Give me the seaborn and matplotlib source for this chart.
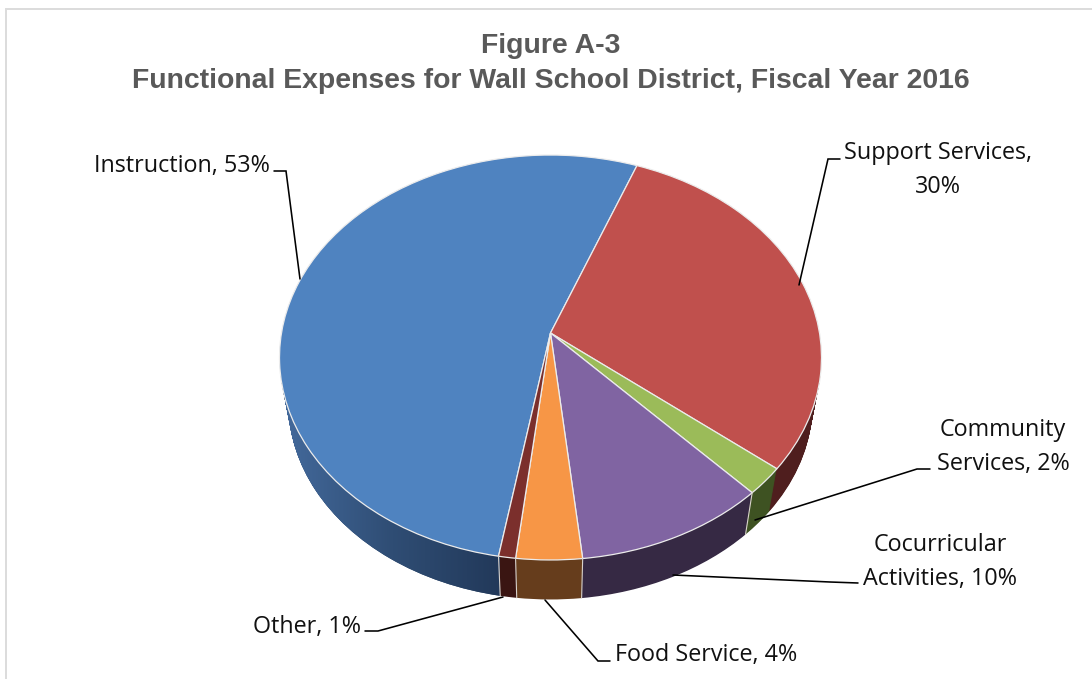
import numpy as np
import matplotlib
matplotlib.use('Agg')
import matplotlib.pyplot as plt
import seaborn as sns
from matplotlib.colors import LinearSegmentedColormap
from matplotlib.path import Path
from matplotlib.transforms import Transform

# values, the labels round them
categories = ['Instruction', 'Support Services', 'Community\nServices', 'Cocurricular\nActivities', 'Food Service', 'Other']
label_breaks = [' ', '\n', ' ', ' ', ' ', ' ']
values = [53.1, 30.0, 2.2, 10.3, 3.5, 0.9]
top_colors = ['#4f83c0', '#c0504d', '#9bbb59', '#8064a2', '#f79646', '#7b2f2c']
side_colors = ['#2a4566', '#4f1e1e', '#3e5222', '#362944', '#663d1c', '#3a1512']
blue_side = ['#43699b', '#2f4d74', '#22395a']

title_lines = 'Figure A-3\nFunctional Expenses for Wall School District, Fiscal Year 2016'

# layout in pixels of the 1092x679 picture
label_pos = [(182, 166), (938, 170), (1003, 447), (940, 562), (706, 655), (307, 627)]
leaders = [
    ([274, 286, 300], [171, 171, 279]),
    ([840, 828, 799], [159, 159, 285]),
    ([930, 917, 755], [469, 469, 520]),
    ([858, 830, 673], [583, 582, 575]),
    ([610, 598, 545], [661, 661, 600]),
    ([365, 378, 503], [631, 631, 597]),
]

sns.set_theme(style='white')
plt.rcParams['font.family'] = ['Open Sans', 'DejaVu Sans']


class TiltedPie(Transform):
    """Unit circle to the tilted disc, level 0 is the top face and 1 the bottom."""
    input_dims = 2
    output_dims = 2

    def __init__(self, level=0.0):
        super().__init__()
        self.level = level

    def transform_non_affine(self, xy):
        xy = np.asarray(xy, dtype=float)
        s = 1 - 0.033 * self.level
        w = 1 + 0.121 * xy[:, 1]
        px = 550.5 + s * 269 * xy[:, 0] / w
        py = 333 + 47 * self.level - s * 199.5 * xy[:, 1] / w
        return np.column_stack([px, py])


fig = plt.figure(figsize=(10.92, 6.79), dpi=100)
ax = fig.add_axes([0, 0, 1, 1])

# side of the disc, stacked from the bottom up
n_layers = 47
blue_paths = []
for i in range(n_layers, 0, -1):
    tilt = TiltedPie(i / n_layers)
    wedges, _ = ax.pie(values, colors=side_colors, startangle=-99.8, counterclock=False,
                       wedgeprops={'linewidth': 0, 'zorder': 1})
    for w in wedges:
        w.set_transform(tilt + ax.transData)
    blue_paths.append(tilt.transform_path(wedges[0].get_path()))

# the blue side gets lighter to the left
grad = LinearSegmentedColormap.from_list('blue_side', blue_side)
im = ax.imshow(np.linspace(0, 1, 256)[None, :], cmap=grad, extent=(285, 500, 679, 0),
               aspect='auto', zorder=2)
im.set_clip_path(Path.make_compound_path(*blue_paths), ax.transData)

# top face
wedges, _ = ax.pie(values, colors=top_colors, startangle=-99.8, counterclock=False,
                   wedgeprops={'linewidth': 0.9, 'edgecolor': '#ececec', 'zorder': 3})
for w in wedges:
    w.set_transform(TiltedPie(0) + ax.transData)

# thin light lines where the front slices meet on the side
for w in wedges[2:]:
    a = np.deg2rad(w.theta1)
    unit = np.array([[np.cos(a), np.sin(a)]])
    p0 = TiltedPie(0).transform(unit)[0]
    p1 = TiltedPie(1).transform(unit)[0]
    ax.plot([p0[0], p1[0]], [p0[1], p1[1]], color='#d8d2cc', lw=0.8, zorder=3)

ax.set_aspect('auto')
ax.set_xlim(0, 1092)
ax.set_ylim(679, 0)
ax.set_axis_off()

# chart area border, only top and left are in frame
ax.plot([6, 6, 1092], [679, 9, 9], color='#dcdcdc', lw=1.4, zorder=1, solid_joinstyle='miter')

ax.text(551, 63.5, title_lines, ha='center', va='center', fontsize=20.4, fontweight='bold',
        color='#595959', family=['Liberation Sans'], linespacing=1.44, zorder=6)

for name, brk, v, (x, y), (lx, ly) in zip(categories, label_breaks, values, label_pos, leaders):
    ax.plot(lx, ly, color='black', lw=1.15, zorder=5, solid_joinstyle='miter')
    ax.text(x, y, f'{name},{brk}{round(v)}%', ha='center', va='center', fontsize=16.8,
            color='#111111', linespacing=1.52, zorder=6)

fig.savefig('out.png', dpi=100)
